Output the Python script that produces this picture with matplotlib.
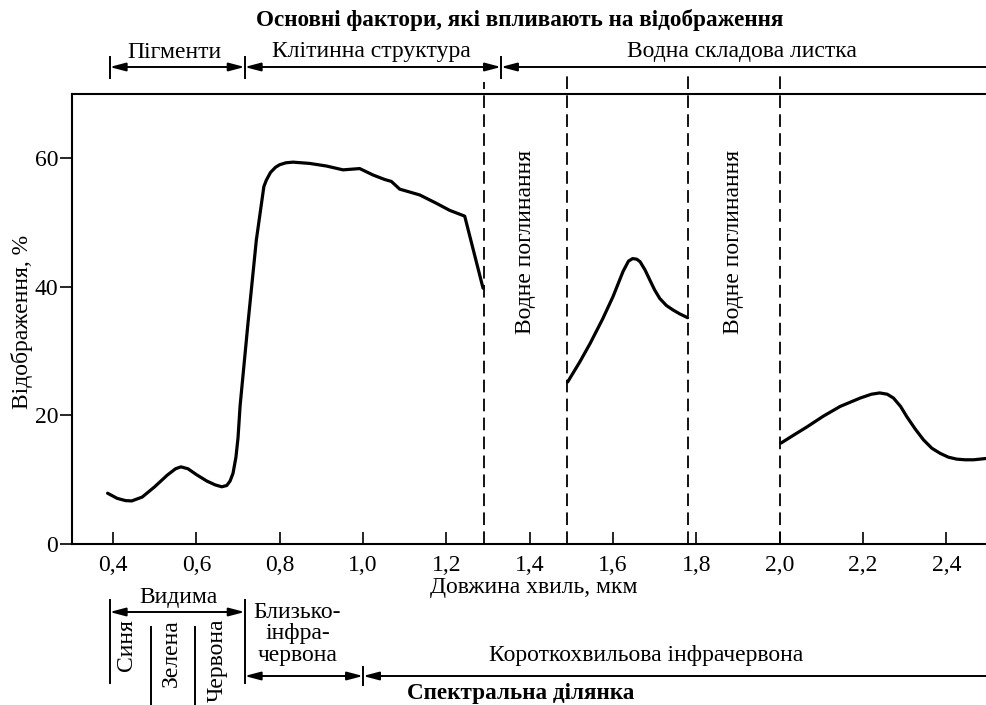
import matplotlib
matplotlib.use("Agg")
import matplotlib.pyplot as plt
from matplotlib.transforms import blended_transform_factory

plt.rcParams['font.family'] = ['Liberation Serif', 'DejaVu Serif']

# Reflectance curve of green leaf (wavelength in um, reflectance in %)
vis_nir_x = [0.387, 0.41, 0.43, 0.445, 0.47, 0.50, 0.53, 0.55, 0.563, 0.58, 0.60, 0.625,
             0.645, 0.661, 0.673, 0.681, 0.688, 0.695, 0.700, 0.705, 0.724, 0.744, 0.762,
             0.768, 0.778, 0.79, 0.80, 0.815, 0.832, 0.872, 0.912, 0.952, 0.992, 1.024,
             1.052, 1.068, 1.088, 1.136, 1.176, 1.208, 1.244, 1.288]
vis_nir_y = [7.9, 7.1, 6.75, 6.7, 7.3, 8.9, 10.7, 11.7, 12.0, 11.7, 10.8, 9.8,
             9.2, 8.9, 9.1, 9.8, 11.0, 13.5, 16.5, 21.5, 34.4, 47.3, 55.6,
             56.6, 57.8, 58.6, 59.0, 59.3, 59.4, 59.2, 58.8, 58.2, 58.4, 57.4,
             56.7, 56.4, 55.2, 54.3, 53.0, 51.9, 51.0, 39.8]

swir1_x = [1.491, 1.52, 1.545, 1.575, 1.60, 1.624, 1.637, 1.647, 1.657, 1.665, 1.677,
           1.688, 1.70, 1.712, 1.728, 1.744, 1.76, 1.779]
swir1_y = [25.2, 28.3, 31.2, 35.0, 38.5, 42.4, 44.0, 44.4, 44.3, 43.9, 42.6,
           41.1, 39.5, 38.2, 37.1, 36.4, 35.8, 35.2]

swir2_x = [2.003, 2.035, 2.065, 2.105, 2.145, 2.193, 2.22, 2.24, 2.258, 2.273, 2.29,
           2.305, 2.325, 2.345, 2.365, 2.385, 2.405, 2.425, 2.445, 2.465, 2.495]
swir2_y = [15.7, 17.0, 18.2, 19.9, 21.4, 22.7, 23.3, 23.5, 23.3, 22.7, 21.4,
           19.8, 17.9, 16.2, 14.9, 14.1, 13.5, 13.2, 13.1, 13.1, 13.3]

# water absorption band edges
absorption_edges = [1.29, 1.49, 1.78, 2.0]

x_ticks = [0.4, 0.6, 0.8, 1.0, 1.2, 1.4, 1.6, 1.8, 2.0, 2.2, 2.4]
x_tick_labels = ['0,4', '0,6', '0,8', '1,0', '1,2', '1,4', '1,6', '1,8', '2,0', '2,2', '2,4']
y_ticks = [0, 20, 40, 60]

# factor boundaries (top) and spectral region boundaries (bottom)
factor_edges = [0.392, 0.716, 1.331]
factor_names = ['Пігменти', 'Клітинна структура', 'Водна складова листка']
visible_edges = [0.392, 0.4905, 0.596, 0.716]
visible_names = ['Синя', 'Зелена', 'Червона']
nir_edge = 1.0

FS = 17
W, H = 986, 705
fig = plt.figure(figsize=(W / 100, H / 100), dpi=100)
ax = fig.add_axes([72 / W, 1 - 544 / H, 1 - 72 / W, (544 - 94) / H])

def fy(p):
    return 1 - p / H

for xs, ys in [(vis_nir_x, vis_nir_y), (swir1_x, swir1_y), (swir2_x, swir2_y)]:
    ax.plot(xs, ys, color='black', lw=2.3, solid_joinstyle='round', solid_capstyle='round')

ax.set_xlim(0.3016, 2.495)
ax.set_ylim(0, 70)
ax.spines['right'].set_visible(False)
for s in ['left', 'bottom', 'top']:
    ax.spines[s].set_linewidth(1.5)
ax.set_xticks(x_ticks)
ax.set_xticklabels(x_tick_labels)
ax.set_yticks(y_ticks)
ax.tick_params(axis='x', direction='in', length=9, width=1.2, pad=8, labelsize=FS)
ax.tick_params(axis='y', direction='out', length=9, width=1.2, pad=1, labelsize=FS)

# dashed absorption lines, reaching above the frame
for i, xe in enumerate(absorption_edges):
    top = 1.027 if i == 0 else 1.049
    ax.plot([xe, xe], [0, top], transform=blended_transform_factory(ax.transData, ax.transAxes),
            color='black', lw=1.3, linestyle=(0, (7, 3.5)), clip_on=False)

ax.text(1.39, 61.3, 'Водне поглинання', rotation=90, ha='center', va='top', fontsize=FS)
ax.text(1.89, 61.3, 'Водне поглинання', rotation=90, ha='center', va='top', fontsize=FS)

tr = blended_transform_factory(ax.transData, fig.transFigure)

def harrow(x0, x1, ypx, style):
    ax.annotate('', xy=(x1, fy(ypx)), xytext=(x0, fy(ypx)), xycoords=tr, textcoords=tr,
                annotation_clip=False,
                arrowprops=dict(arrowstyle=style + ',head_length=0.95,head_width=0.25',
                                mutation_scale=10, lw=1.4, color='black',
                                shrinkA=0, shrinkB=0))

def vbar(x, y0px, y1px):
    ax.plot([x, x], [fy(y0px), fy(y1px)], transform=tr, color='black', lw=1.4, clip_on=False)

# top: factors
fig.text(0.5275, fy(20), 'Основні фактори, які впливають на відображення',
         ha='center', va='center', fontsize=16.7, fontweight='bold')
harrow(factor_edges[0], factor_edges[1], 67, '<|-|>')
harrow(factor_edges[1], factor_edges[2], 67, '<|-|>')
harrow(factor_edges[2], 2.6, 67, '<|-')
for xe in factor_edges:
    vbar(xe, 57, 78)
for name, xc in zip(factor_names, [0.548, 1.021, 1.909]):
    ax.text(xc, fy(52), name, transform=tr, ha='center', va='center', fontsize=FS)

# x label
ax.text(1.41, fy(588), 'Довжина хвиль, мкм', transform=tr, ha='center', va='center', fontsize=FS)

# bottom: spectral regions
harrow(visible_edges[0], visible_edges[-1], 612, '<|-|>')
vbar(visible_edges[0], 600, 683)
vbar(visible_edges[-1], 600, 683)
vbar(visible_edges[1], 627, 720)
vbar(visible_edges[2], 627, 720)
ax.text(0.556, fy(597), 'Видима', transform=tr, ha='center', va='center', fontsize=FS)
for name, xc in zip(visible_names, [0.433, 0.541, 0.649]):
    ax.text(xc, fy(619), name, transform=tr, rotation=90, ha='center', va='top', fontsize=FS)

for line, ypx in zip(['Близько-', 'інфра-', 'червона'], [613, 634, 655]):
    ax.text(0.843, fy(ypx), line, transform=tr, ha='center', va='center', fontsize=FS)
harrow(visible_edges[-1], nir_edge, 676, '<|-|>')
harrow(nir_edge, 2.6, 676, '<|-')
vbar(nir_edge, 667, 685)
ax.text(1.679, fy(655), 'Короткохвильова інфрачервона', transform=tr,
        ha='center', va='center', fontsize=FS)
ax.text(1.379, fy(693), 'Спектральна ділянка', transform=tr,
        ha='center', va='center', fontsize=16.7, fontweight='bold')

fig.text(22 / W, fy(322), 'Відображення, %', rotation=90, ha='center', va='center', fontsize=FS)

fig.savefig('out.png', dpi=100)
